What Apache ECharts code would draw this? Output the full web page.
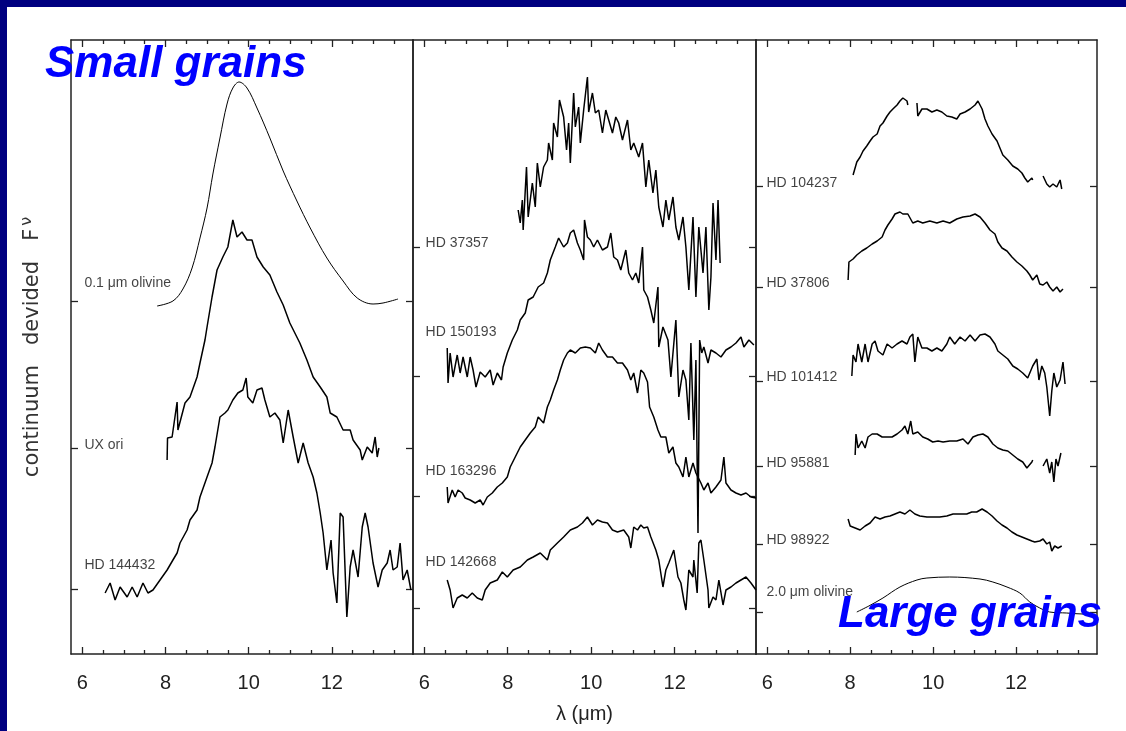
<!DOCTYPE html>
<html><head><meta charset="utf-8">
<script src="https://cdn.jsdelivr.net/npm/echarts@6/dist/echarts.min.js"></script>
<style>html,body{margin:0;padding:0;background:#000080;}#c{width:1126px;height:731px;}</style>
</head><body><div id="c"></div>
<script>
// ---------- axis values ----------
const xMajorTicks = [6, 8, 10, 12];
const xMinorTicks = [6.5, 7, 7.5, 8.5, 9, 9.5, 10.5, 11, 11.5, 12.5, 13, 13.5];
const xRange = [5.73, 13.95];
const yRange = [0, 6.14];

// ---------- panel 1 (small grains) ----------
const p1Names = ['0.1 μm olivine', 'UX ori', 'HD 144432'];
const p1Baselines = [3.53, 2.06, 0.65];
const p1LabelX = [6.04, 6.04, 6.04];
const p1LabelY = [3.71, 2.09, 0.89];

const lam_olv01 = [7.80,8.18,8.42,8.64,8.83,9.00,9.14,9.31,9.48,9.62,9.77,9.96,10.20,10.51,10.83,11.16,11.48,11.88,12.27,12.61,12.99,13.23,13.59];
const f_olv01   = [0.95,1.00,1.12,1.33,1.63,1.93,2.27,2.63,2.97,3.13,3.19,3.13,2.93,2.63,2.30,2.00,1.73,1.43,1.20,1.03,0.97,0.98,1.02];

const lam_uxori = [8.04,8.05,8.16,8.28,8.30,8.47,8.59,8.76,8.83,8.95,9.00,9.12,9.24,9.38,9.50,9.62,9.72,9.84,9.96,10.08,10.20,10.35,10.51,10.68,10.83,10.99,11.23,11.40,11.55,11.72,11.88,11.96,12.12,12.27,12.44,12.51,12.68,12.73,12.85,12.97,13.04,13.09,13.13];
const f_uxori   = [0.88,1.10,1.11,1.46,1.18,1.45,1.51,1.71,1.85,2.08,2.21,2.51,2.78,2.91,3.01,3.28,3.11,3.16,3.08,3.08,2.91,2.81,2.73,2.56,2.43,2.25,2.05,1.88,1.71,1.61,1.51,1.35,1.31,1.18,1.18,1.08,0.98,0.88,1.01,0.95,1.11,0.91,1.00];

const lam_hd144432 = [6.55,6.67,6.79,6.91,7.08,7.20,7.32,7.46,7.58,7.70,7.87,8.04,8.18,8.28,8.35,8.52,8.59,8.76,8.83,9.00,9.12,9.19,9.31,9.43,9.50,9.62,9.74,9.86,9.94,9.98,10.10,10.20,10.32,10.39,10.51,10.63,10.75,10.83,10.95,11.07,11.19,11.31,11.43,11.55,11.64,11.72,11.79,11.88,11.98,12.03,12.12,12.20,12.27,12.36,12.44,12.51,12.63,12.73,12.80,12.87,12.99,13.11,13.21,13.33,13.40,13.47,13.57,13.64,13.71,13.81,13.90];
const f_hd144432   = [0.96,1.06,0.89,1.02,0.92,1.02,0.92,1.06,0.96,0.99,1.09,1.19,1.29,1.36,1.46,1.59,1.69,1.79,1.92,2.12,2.26,2.42,2.72,2.76,2.79,2.89,2.96,2.99,3.11,2.92,2.86,2.99,3.01,2.89,2.72,2.76,2.69,2.46,2.79,2.52,2.26,2.46,2.26,2.12,1.96,1.76,1.56,1.19,1.49,1.16,0.86,1.76,1.72,0.72,1.22,1.39,1.12,1.62,1.76,1.62,1.26,1.02,1.19,1.26,1.39,1.19,1.22,1.46,1.09,1.19,0.99];

// ---------- panel 2 ----------
const p2Names = ['HD 37357', 'HD 150193', 'HD 163296', 'HD 142668'];
const p2Baselines = [4.07, 2.78, 1.58, 0.46];
const p2LabelX = [6.02, 6.02, 6.02, 6.02];
const p2LabelY = [4.11, 3.22, 1.83, 0.92];

const lam_hd37357 = [8.25,8.30,8.35,8.37,8.45,8.49,8.59,8.66,8.71,8.78,8.86,8.95,8.98,9.07,9.10,9.19,9.24,9.34,9.41,9.46,9.50,9.58,9.62,9.70,9.74,9.82,9.91,9.94,10.03,10.10,10.18,10.27,10.35,10.42,10.51,10.59,10.66,10.75,10.87,10.95,11.02,11.14,11.23,11.31,11.38,11.48,11.55,11.62,11.72,11.79,11.86,11.96,12.03,12.10,12.20,12.27,12.34,12.44,12.51,12.58,12.68,12.75,12.82,12.87,12.92,12.99,13.04,13.09];
const f_hd37357   = [1.37,1.24,1.47,1.17,1.80,1.30,1.64,1.40,1.84,1.60,1.80,1.87,2.04,1.87,2.24,2.10,2.47,2.30,1.97,2.24,1.84,2.54,2.20,2.40,2.04,2.37,2.70,2.35,2.54,2.34,2.37,2.14,2.37,2.27,2.14,2.30,2.24,2.07,2.27,1.97,2.04,1.90,2.04,1.60,1.87,1.54,1.77,1.40,1.20,1.47,1.27,1.50,1.20,1.07,1.30,1.00,0.57,1.30,0.50,1.20,0.74,1.20,0.37,0.70,1.44,0.87,1.47,0.84];

const lam_hd150193 = [6.55,6.57,6.62,6.69,6.79,6.86,6.93,7.03,7.10,7.17,7.24,7.34,7.46,7.58,7.65,7.75,7.85,7.89,7.99,8.11,8.23,8.30,8.42,8.49,8.61,8.73,8.86,8.95,9.02,9.14,9.22,9.34,9.43,9.50,9.58,9.67,9.74,9.82,9.84,9.91,9.98,10.06,10.15,10.27,10.39,10.47,10.54,10.63,10.71,10.83,10.90,10.99,11.07,11.14,11.23,11.26,11.35,11.43,11.50,11.60,11.62,11.72,11.84,11.91,12.03,12.10,12.20,12.27,12.34,12.39,12.46,12.51,12.56,12.60,12.65,12.70,12.80,12.87,12.99,13.11,13.23,13.35,13.47,13.59,13.66,13.78,13.90];
const f_hd150193   = [1.28,0.93,1.23,0.99,1.21,1.03,1.19,0.99,1.19,1.06,0.89,1.04,0.99,1.06,0.91,1.03,0.96,1.09,1.23,1.36,1.46,1.56,1.63,1.76,1.79,1.89,1.93,2.03,2.16,2.29,2.38,2.29,2.33,2.43,2.46,2.33,2.26,2.16,2.56,2.39,2.36,2.29,2.36,2.26,2.29,2.43,2.19,2.16,2.06,2.26,2.03,1.96,2.03,1.93,2.29,1.86,1.79,1.66,1.53,1.89,1.29,1.49,1.36,0.99,1.56,0.79,1.06,0.96,0.56,1.33,0.36,1.16,-0.57,1.36,1.23,1.29,1.13,1.26,1.23,1.19,1.26,1.29,1.33,1.39,1.29,1.36,1.31];

const lam_hd163296 = [6.55,6.57,6.67,6.74,6.81,6.91,6.98,7.10,7.22,7.34,7.41,7.51,7.63,7.75,7.87,7.99,8.06,8.18,8.30,8.42,8.54,8.66,8.73,8.86,8.95,9.02,9.10,9.19,9.26,9.34,9.43,9.50,9.62,9.74,9.86,9.98,10.10,10.18,10.27,10.39,10.51,10.63,10.75,10.87,10.95,11.02,11.11,11.19,11.26,11.35,11.40,11.50,11.60,11.67,11.79,11.86,11.96,12.03,12.10,12.20,12.27,12.34,12.44,12.51,12.63,12.70,12.80,12.87,12.99,13.11,13.18,13.23,13.35,13.47,13.59,13.71,13.83,13.95];
const f_hd163296   = [1.09,0.93,1.06,0.99,1.06,1.03,0.98,0.96,0.93,0.96,0.91,0.99,1.03,1.09,1.13,1.19,1.29,1.39,1.49,1.56,1.63,1.69,1.79,1.73,1.89,1.96,2.06,2.16,2.26,2.36,2.43,2.46,2.43,2.48,2.49,2.48,2.43,2.53,2.46,2.39,2.39,2.33,2.33,2.26,2.16,2.23,2.03,2.26,2.23,2.14,1.89,1.79,1.66,1.59,1.59,1.43,1.49,1.33,1.29,1.19,1.39,1.19,1.33,1.23,1.13,1.06,1.13,1.03,1.09,1.16,1.39,1.13,1.06,1.03,1.01,1.03,0.99,0.98];

const lam_hd142668 = [6.55,6.62,6.69,6.79,6.91,7.03,7.15,7.27,7.39,7.46,7.58,7.75,7.87,7.99,8.13,8.30,8.47,8.61,8.78,8.95,9.02,9.19,9.34,9.50,9.67,9.79,9.91,10.03,10.15,10.27,10.39,10.51,10.63,10.78,10.90,10.95,11.02,11.11,11.19,11.26,11.35,11.43,11.55,11.62,11.72,11.79,11.86,11.98,12.08,12.15,12.22,12.27,12.34,12.44,12.46,12.54,12.58,12.63,12.70,12.80,12.82,12.92,12.99,13.06,13.16,13.23,13.35,13.47,13.59,13.71,13.83,13.95];
const f_hd142668   = [1.28,1.18,1.00,1.10,1.13,1.10,1.15,1.10,1.08,1.18,1.25,1.28,1.36,1.31,1.38,1.41,1.48,1.51,1.55,1.48,1.58,1.65,1.71,1.78,1.81,1.85,1.91,1.83,1.88,1.86,1.85,1.78,1.76,1.78,1.71,1.60,1.81,1.78,1.83,1.80,1.81,1.71,1.58,1.48,1.21,1.38,1.45,1.58,1.31,1.25,1.08,0.98,1.38,1.31,1.48,1.15,1.65,1.68,1.48,1.18,1.00,1.11,1.08,1.28,1.03,1.18,1.21,1.25,1.28,1.31,1.25,1.18];

// ---------- panel 3 (large grains) ----------
const p3Names = ['HD 104237', 'HD 37806', 'HD 101412', 'HD 95881', 'HD 98922', '2.0 μm olivine'];
const p3Baselines = [4.68, 3.67, 2.73, 1.88, 1.10, 0.42];
const p3LabelX = [5.97, 5.97, 5.97, 5.97, 5.97, 5.97];
const p3LabelY = [4.71, 3.71, 2.77, 1.91, 1.14, 0.62];

const lam_hd104237 = [8.07,8.16,8.24,8.31,8.40,8.48,8.55,8.65,8.72,8.79,8.89,8.96,9.03,9.13,9.20,9.27,9.37,9.39,9.50,9.61,9.63,9.73,9.85,9.97,10.09,10.21,10.33,10.45,10.57,10.65,10.77,10.89,11.01,11.08,11.18,11.25,11.32,11.42,11.54,11.61,11.68,11.80,11.92,12.04,12.14,12.21,12.28,12.38,12.40,12.55,12.65,12.74,12.81,12.89,12.98,13.06,13.10];
const f_hd104237   = [1.11,1.24,1.29,1.35,1.40,1.45,1.49,1.52,1.60,1.63,1.70,1.74,1.77,1.81,1.85,1.88,1.85,1.81,null,1.83,1.70,1.77,1.77,1.74,1.76,1.74,1.70,1.69,1.67,1.72,1.74,1.77,1.81,1.85,1.77,1.67,1.60,1.52,1.45,1.38,1.31,1.26,1.20,1.17,1.13,1.08,1.04,1.08,1.06,null,1.10,1.02,0.99,1.02,0.99,1.06,0.97];

const lam_hd37806 = [7.95,7.97,8.07,8.16,8.28,8.40,8.53,8.65,8.77,8.84,8.91,9.01,9.08,9.20,9.27,9.39,9.51,9.63,9.75,9.92,10.09,10.24,10.40,10.57,10.72,10.89,11.01,11.13,11.25,11.37,11.49,11.56,11.66,11.78,11.90,12.02,12.14,12.26,12.33,12.40,12.50,12.57,12.65,12.74,12.81,12.89,12.98,13.06,13.13];
const f_hd37806   = [1.07,1.25,1.28,1.32,1.36,1.39,1.43,1.46,1.50,1.57,1.62,1.68,1.73,1.75,1.73,1.73,1.64,1.66,1.64,1.66,1.64,1.66,1.64,1.68,1.70,1.71,1.73,1.70,1.64,1.57,1.53,1.45,1.39,1.36,1.30,1.25,1.21,1.16,1.12,1.07,1.12,1.03,1.02,1.05,1.00,0.96,1.00,0.95,0.98];

const lam_hd101412 = [8.04,8.07,8.14,8.19,8.28,8.36,8.43,8.53,8.60,8.67,8.79,8.89,9.01,9.13,9.25,9.37,9.44,9.51,9.56,9.63,9.73,9.85,9.97,10.09,10.21,10.33,10.40,10.52,10.65,10.77,10.89,11.01,11.13,11.25,11.37,11.49,11.56,11.68,11.80,11.92,12.04,12.16,12.28,12.40,12.50,12.55,12.62,12.69,12.74,12.81,12.86,12.91,12.98,13.06,13.13,13.18];
const f_hd101412   = [1.05,1.26,1.19,1.37,1.19,1.37,1.19,1.37,1.40,1.30,1.26,1.37,1.33,1.37,1.40,1.37,1.44,1.47,1.19,1.44,1.33,1.33,1.30,1.33,1.30,1.37,1.44,1.37,1.44,1.40,1.46,1.40,1.46,1.47,1.44,1.37,1.30,1.26,1.22,1.15,1.12,1.08,1.03,1.15,1.22,1.01,1.15,1.08,0.94,0.65,0.90,1.08,0.94,1.01,1.19,0.97];

const lam_hd95881 = [8.12,8.14,8.19,8.28,8.36,8.43,8.53,8.65,8.77,8.89,9.01,9.13,9.25,9.32,9.39,9.46,9.51,9.63,9.75,9.87,9.99,10.12,10.24,10.40,10.57,10.72,10.84,10.96,11.08,11.20,11.32,11.44,11.56,11.68,11.80,11.92,12.04,12.16,12.26,12.38,12.40,12.55,12.65,12.74,12.81,12.86,12.91,12.96,13.01,13.08];
const f_hd95881   = [1.11,1.32,1.18,1.25,1.18,1.29,1.32,1.32,1.29,1.29,1.29,1.32,1.36,1.40,1.32,1.45,1.32,1.34,1.29,1.27,1.24,1.25,1.24,1.25,1.25,1.27,1.22,1.29,1.31,1.32,1.29,1.22,1.18,1.16,1.15,1.11,1.07,1.04,0.98,1.04,1.06,null,1.00,1.07,0.93,1.04,0.84,1.07,1.00,1.13];

const lam_hd98922 = [7.95,8.00,8.12,8.24,8.36,8.48,8.60,8.72,8.84,8.96,9.08,9.20,9.32,9.44,9.56,9.68,9.85,9.99,10.16,10.33,10.48,10.65,10.81,10.93,11.05,11.18,11.30,11.42,11.54,11.66,11.78,11.90,12.02,12.14,12.26,12.38,12.45,12.57,12.65,12.74,12.81,12.86,12.93,13.01,13.10];
const f_hd98922   = [1.25,1.18,1.16,1.14,1.18,1.21,1.27,1.25,1.27,1.28,1.30,1.32,1.30,1.34,1.30,1.28,1.27,1.27,1.27,1.28,1.30,1.30,1.30,1.32,1.32,1.35,1.32,1.28,1.23,1.19,1.16,1.12,1.09,1.07,1.05,1.03,1.02,1.03,1.05,1.00,1.02,0.93,0.98,0.96,0.98];

const lam_olv20 = [8.16,8.45,8.79,9.20,9.61,9.85,10.40,11.13,11.44,11.78,12.09,12.33,12.57,12.81,13.22,13.61,13.85];
const f_olv20   = [1.00,1.06,1.14,1.25,1.32,1.34,1.35,1.33,1.30,1.25,1.19,1.10,1.04,1.00,0.99,0.98,0.98];

// ---------- build ----------
const panels = [
  { names: p1Names, base: p1Baselines, lx: p1LabelX, ly: p1LabelY,
    spectra: [[lam_olv01, f_olv01, true], [lam_uxori, f_uxori, false], [lam_hd144432, f_hd144432, false]] },
  { names: p2Names, base: p2Baselines, lx: p2LabelX, ly: p2LabelY,
    spectra: [[lam_hd37357, f_hd37357, false], [lam_hd150193, f_hd150193, false], [lam_hd163296, f_hd163296, false], [lam_hd142668, f_hd142668, false]] },
  { names: p3Names, base: p3Baselines, lx: p3LabelX, ly: p3LabelY,
    spectra: [[lam_hd104237, f_hd104237, false], [lam_hd37806, f_hd37806, false], [lam_hd101412, f_hd101412, false], [lam_hd95881, f_hd95881, false], [lam_hd98922, f_hd98922, false], [lam_olv20, f_olv20, true]] }
];

const gridBoxes = [
  { left: 71, top: 40, width: 342, height: 614 },
  { left: 413, top: 40, width: 343, height: 614 },
  { left: 756, top: 40, width: 341, height: 614 }
];

const AX = '#222';
const grids = [], xAxes = [], yAxes = [], series = [];

panels.forEach((p, gi) => {
  grids.push(gridBoxes[gi]);
  const common = { type: 'value', gridIndex: gi, min: xRange[0], max: xRange[1], splitLine: { show: false } };
  xAxes.push(Object.assign({}, common, {
    position: 'bottom',
    axisLine: { show: true, onZero: false, lineStyle: { color: AX, width: 1.5 } },
    axisTick: { show: true, inside: true, length: 7, customValues: xMajorTicks, lineStyle: { color: AX, width: 1.3 } },
    axisLabel: { show: true, customValues: xMajorTicks, margin: 19, fontSize: 20, color: AX, fontFamily: 'Liberation Sans' },
    name: gi === 1 ? 'λ (μm)' : '', nameLocation: 'middle', nameGap: 50,
    nameTextStyle: { fontSize: 20, color: AX, fontFamily: 'Liberation Sans' }
  }));
  xAxes.push(Object.assign({}, common, {
    position: 'bottom',
    axisLine: { show: false, onZero: false },
    axisTick: { show: true, inside: true, length: 4, customValues: xMinorTicks, lineStyle: { color: AX, width: 1.3 } },
    axisLabel: { show: false }
  }));
  xAxes.push(Object.assign({}, common, {
    position: 'top',
    axisLine: { show: true, onZero: false, lineStyle: { color: AX, width: 1.5 } },
    axisTick: { show: true, inside: true, length: 7, customValues: xMajorTicks, lineStyle: { color: AX, width: 1.3 } },
    axisLabel: { show: false }
  }));
  xAxes.push(Object.assign({}, common, {
    position: 'top',
    axisLine: { show: false, onZero: false },
    axisTick: { show: true, inside: true, length: 4, customValues: xMinorTicks, lineStyle: { color: AX, width: 1.3 } },
    axisLabel: { show: false }
  }));
  const ycommon = { type: 'value', gridIndex: gi, min: yRange[0], max: yRange[1], splitLine: { show: false }, axisLabel: { show: false } };
  yAxes.push(Object.assign({}, ycommon, {
    position: 'left',
    axisLine: { show: true, onZero: false, lineStyle: { color: AX, width: 1.5 } },
    axisTick: { show: true, inside: true, length: 7, customValues: p.base, lineStyle: { color: AX, width: 1.3 } },
    name: gi === 0 ? 'continuum   devided   F{s|ν}' : '', nameLocation: 'middle', nameGap: 24,
    nameTextStyle: { fontSize: 21, color: '#333', fontFamily: 'DejaVu Sans',
      rich: { s: { fontSize: 16, color: '#333', fontFamily: 'DejaVu Sans', padding: [0, 0, 12, 3] } } }
  }));
  yAxes.push(Object.assign({}, ycommon, {
    position: 'right',
    axisLine: { show: true, onZero: false, lineStyle: { color: AX, width: 1.5 } },
    axisTick: { show: true, inside: true, length: 7, customValues: p.base, lineStyle: { color: AX, width: 1.3 } }
  }));

  p.spectra.forEach((s, si) => {
    const lam = s[0], f = s[1], model = s[2];
    const off = p.base[si] - 1;
    series.push({
      type: 'line', xAxisIndex: gi * 4, yAxisIndex: gi * 2,
      data: lam.map((x, i) => [x, f[i] == null ? '-' : +(f[i] + off).toFixed(3)]),
      showSymbol: false, symbol: 'none', connectNulls: false,
      smooth: model ? 0.35 : false,
      lineStyle: { color: '#000', width: model ? 1.0 : 1.5 },
      silent: true, z: 3
    });
  });
  series.push({
    type: 'scatter', xAxisIndex: gi * 4, yAxisIndex: gi * 2,
    data: p.names.map((n, i) => [p.lx[i], p.ly[i], n]),
    symbolSize: 1, itemStyle: { color: 'rgba(0,0,0,0)' }, silent: true, z: 4,
    label: { show: true, position: 'right', distance: 0, formatter: q => q.data[2],
      color: '#111', fontSize: 14, fontFamily: 'Liberation Sans' }
  });
});

const chart = echarts.init(document.getElementById('c'), null, { renderer: 'canvas' });
chart.setOption({
  animation: false,
  backgroundColor: '#000080',
  grid: grids, xAxis: xAxes, yAxis: yAxes, series: series,
  graphic: [
    { type: 'rect', shape: { x: 7, y: 7, width: 1119, height: 724 }, style: { fill: '#fff' }, z: -100, silent: true },
    { type: 'text', x: 45, y: 65, z: 100, silent: true,
      style: { text: 'Small grains', font: 'italic bold 44px "Liberation Sans"', fill: '#0000ff', align: 'left', verticalAlign: 'middle' } },
    { type: 'text', x: 838, y: 615, z: 100, silent: true,
      style: { text: 'Large grains', font: 'italic bold 44px "Liberation Sans"', fill: '#0000ff', align: 'left', verticalAlign: 'middle' } }
  ]
});
</script></body></html>
